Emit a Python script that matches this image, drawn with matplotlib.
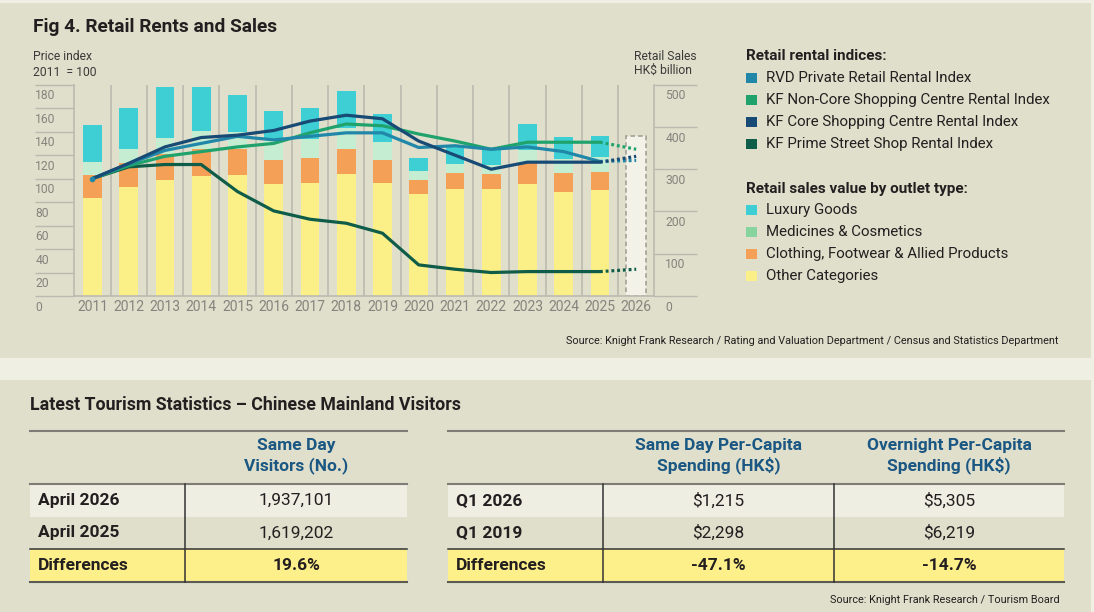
import matplotlib.pyplot as plt
import numpy as np
from matplotlib.patches import Rectangle

plt.rcParams['font.family'] = ['Roboto', 'DejaVu Sans']

# retail sales by outlet type, HK$ billion (right axis)
years = list(range(2011, 2026))
other = [232, 257, 274, 284, 286, 265, 268, 288, 267, 242, 254, 254, 265, 247, 250]
clothing = [54, 57, 62, 65, 62, 58, 59, 61, 54, 32, 37, 34, 49, 44, 43]
medicines = [30, 35, 39, 42, 39, 47, 44, 48, 44, 22, 22, 22, 32, 34, 35]
luxury = [89, 96, 119, 103, 88, 67, 74, 89, 66, 31, 41, 38, 61, 51, 51]
forecast_year = 2026
forecast_sales = 379

# rental indices, 2011 = 100 (left axis); last value is the 2026 forecast
rvd = [100, 112.6, 124, 130, 136, 133, 136, 139, 139, 126.5, 128, 125, 127, 123, 114.6, 115.5]
noncore = [100, 111, 119, 123, 127, 130, 139, 146.5, 145, 138, 132, 125, 131, 131, 131, 125]
core = [100, 113, 127, 135, 137, 141, 149, 154, 151, 132, 120, 108, 114, 114, 114, 119]
prime = [100, 110, 112, 112, 89, 72.5, 65.4, 62, 53.5, 26.5, 22.8, 20, 20.8, 20.8, 20.8, 22.8]

index_names = ["RVD Private Retail Rental Index", "KF Non-Core Shopping Centre Rental Index",
               "KF Core Shopping Centre Rental Index", "KF Prime Street Shop Rental Index"]
sales_names = ["Luxury Goods", "Medicines & Cosmetics",
               "Clothing, Footwear & Allied Products", "Other Categories"]

# tourism tables
visitor_rows = ["April 2026", "April 2025", "Differences"]
visitor_vals = ["1,937,101", "1,619,202", "19.6%"]
spend_rows = ["Q1 2026", "Q1 2019", "Differences"]
sameday_spend = ["$1,215", "$2,298", "-47.1%"]
overnight_spend = ["$5,305", "$6,219", "-14.7%"]

c_line = ["#2187a9", "#20a26c", "#174a74", "#0f5d48"]
c_bar = ["#3ecfd4", "#c5edd1", "#f4a056", "#fbf088"]
c_leg_bar = ["#3ecfd4", "#88d49e", "#f4a056", "#fbf088"]
grid = "#bcbab0"
beige = "#e0dfcb"
light = "#f0efe4"
dark = "#231f20"
blue = "#1b5783"
tickc = "#85837d"

W, H = 1094, 612
fig = plt.figure(figsize=(W / 100, H / 100), dpi=100, facecolor=light)

# background / annotation layer in pixel coordinates
bg = fig.add_axes([0, 0, 1, 1], zorder=-5)
bg.set_xlim(0, W)
bg.set_ylim(H, 0)
bg.axis("off")
bg.add_patch(Rectangle((0, 3), 1091, 355, color=beige, lw=0))
bg.add_patch(Rectangle((0, 380), 1091, 232, color=beige, lw=0))

bg.text(33, 27, "Fig 4. Retail Rents and Sales", fontsize=13.8, fontweight="bold",
        color=dark, va="center")
bg.text(33, 57, "Price index", fontsize=8.7, color="#3a3a3a", va="center")
bg.text(33, 72, "2011  = 100", fontsize=8.7, color="#3a3a3a", va="center")
bg.text(634, 56, "Retail Sales", fontsize=8.7, color="#3a3a3a", va="center")
bg.text(634, 70, "HK$ billion", fontsize=8.7, color="#3a3a3a", va="center")

# legend
bg.text(746, 56, "Retail rental indices:", fontsize=11, fontweight="bold", color=dark, va="center")
for i, (name, c) in enumerate(zip(index_names, c_line)):
    y = 78 + i * 22
    bg.add_patch(Rectangle((746, y - 5.3), 10.7, 10.7, color=c, lw=0))
    bg.text(766, y, name, fontsize=10.8, color=dark, va="center")
bg.text(746, 189, "Retail sales value by outlet type:", fontsize=11, fontweight="bold",
        color=dark, va="center")
for i, (name, c) in enumerate(zip(sales_names, c_leg_bar)):
    y = 210 + i * 22
    bg.add_patch(Rectangle((746, y - 5.3), 10.7, 10.7, color=c, lw=0))
    bg.text(766, y, name, fontsize=10.8, color=dark, va="center")

bg.text(1058, 341, "Source: Knight Frank Research / Rating and Valuation Department / "
        "Census and Statistics Department", fontsize=7.8, color=dark, ha="right", va="center")

# chart
ax = fig.add_axes([74.3 / W, 1 - 296 / H, (654.3 - 74.3) / W, (296 - 84.7) / H])
axr = ax.twinx()
ax.set_zorder(axr.get_zorder() + 1)
ax.patch.set_visible(False)
axr.patch.set_visible(False)

x = np.array(years)
bottom = np.zeros(len(years))
for vals, c in zip([other, clothing, medicines, luxury], c_bar[::-1]):
    axr.bar(x, vals, width=0.52, bottom=bottom, color=c, lw=0, zorder=2)
    bottom += np.array(vals)
axr.bar(forecast_year, forecast_sales, width=0.55, facecolor="#f3f2e9", edgecolor="#9c9a94",
        lw=1.1, linestyle=(0, (3, 2)), zorder=2)

for xv in np.arange(2011.5, 2026, 1):
    axr.axvline(xv, color=grid, lw=1.2, zorder=1)

all_years = years + [forecast_year]
for vals, c in zip([prime, noncore, rvd, core], [c_line[3], c_line[1], c_line[0], c_line[2]]):
    ax.plot(years, vals[:-1], color=c, lw=2.3, solid_capstyle="round", zorder=3)
    ax.plot(all_years[-2:], vals[-2:], color=c, lw=2.3, linestyle=(0, (0.9, 0.9)), zorder=3)
ax.plot(years[0], rvd[0], "o", color=c_line[0], ms=3, zorder=4)

ax.set_xlim(2010.5, 2026.5)
ax.set_ylim(0, 180)
axr.set_ylim(0, 500)
ax.set_xticks(all_years)
ax.set_xticklabels([str(y) for y in all_years], fontsize=10, color=tickc)
ax.tick_params(axis="x", length=0, pad=3)
ax.set_yticks(range(0, 181, 20))
ax.tick_params(axis="y", length=28, width=1, color=grid, labelleft=False)
axr.set_yticks(range(0, 501, 100))
axr.tick_params(axis="y", length=31, width=1, color=grid, labelright=False)

for v in range(0, 181, 20):
    ax.annotate(str(v), xy=(0, v), xycoords=ax.get_yaxis_transform(), xytext=(-28, -8),
                textcoords="offset points", ha="left", va="center", fontsize=8.7, color=tickc)
for v in range(0, 501, 100):
    axr.annotate(str(v), xy=(1, v), xycoords=axr.get_yaxis_transform(), xytext=(8, -8),
                 textcoords="offset points", ha="left", va="center", fontsize=8.7, color=tickc)

for a in (ax, axr):
    for s in a.spines.values():
        s.set_visible(False)
for s in ("left", "right", "bottom"):
    axr.spines[s].set_visible(True)
    axr.spines[s].set_color(grid)
    axr.spines[s].set_linewidth(1.2)
axr.tick_params(axis="x", length=0, labelbottom=False)

# tourism tables
bg.text(30, 405, "Latest Tourism Statistics \u2013 Chinese Mainland Visitors", fontsize=12.8,
        fontweight="bold", color=dark, va="center")

top, head, r1, r2, r3 = 431, 484, 517, 549, 582
fs = 12.5


def draw_table(x0, x1, splits, headers, rows, cols):
    yc = [head, r1, r2, r3]
    bg.add_patch(Rectangle((x0, head), x1 - x0, r1 - head, color="#efeee3", lw=0))
    bg.add_patch(Rectangle((x0, r2), x1 - x0, r3 - r2, color="#fdef89", lw=0))
    bg.plot([x0, x1], [top, top], color="#7d7c76", lw=1.5)
    bg.plot([x0, x1], [head, head], color="#7d7c76", lw=1.5)
    bg.plot([x0, x1], [r2, r2], color="#333333", lw=1.1)
    bg.plot([x0, x1], [r3, r3], color="#5b5a55", lw=1.5)
    edges = splits + [x1]
    for i, sx in enumerate(splits):
        bg.plot([sx, sx], [head, r3], color="#333333", lw=1.1)
        cx = (sx + edges[i + 1]) / 2
        bg.text(cx, 456, headers[i], fontsize=fs, fontweight="bold", color=blue,
                ha="center", va="center", linespacing=1.25)
        for j, val in enumerate(cols[i]):
            bg.text(cx, (yc[j] + yc[j + 1]) / 2, val, fontsize=fs, color=dark, ha="center",
                    va="center", fontweight="bold" if j == 2 else "normal")
    for j, lab in enumerate(rows):
        bg.text(x0 + 8, (yc[j] + yc[j + 1]) / 2, lab, fontsize=fs, fontweight="bold",
                color=dark, va="center")


draw_table(30, 407, [185], ["Same Day\nVisitors (No.)"], visitor_rows, [visitor_vals])
draw_table(448, 1064, [603, 834], ["Same Day Per-Capita\nSpending (HK$)",
                                   "Overnight Per-Capita\nSpending (HK$)"],
           spend_rows, [sameday_spend, overnight_spend])

bg.text(1060, 600, "Source: Knight Frank Research / Tourism Board", fontsize=7.8, color=dark,
        ha="right", va="center")

fig.savefig("out.png", dpi=100, facecolor=light)
